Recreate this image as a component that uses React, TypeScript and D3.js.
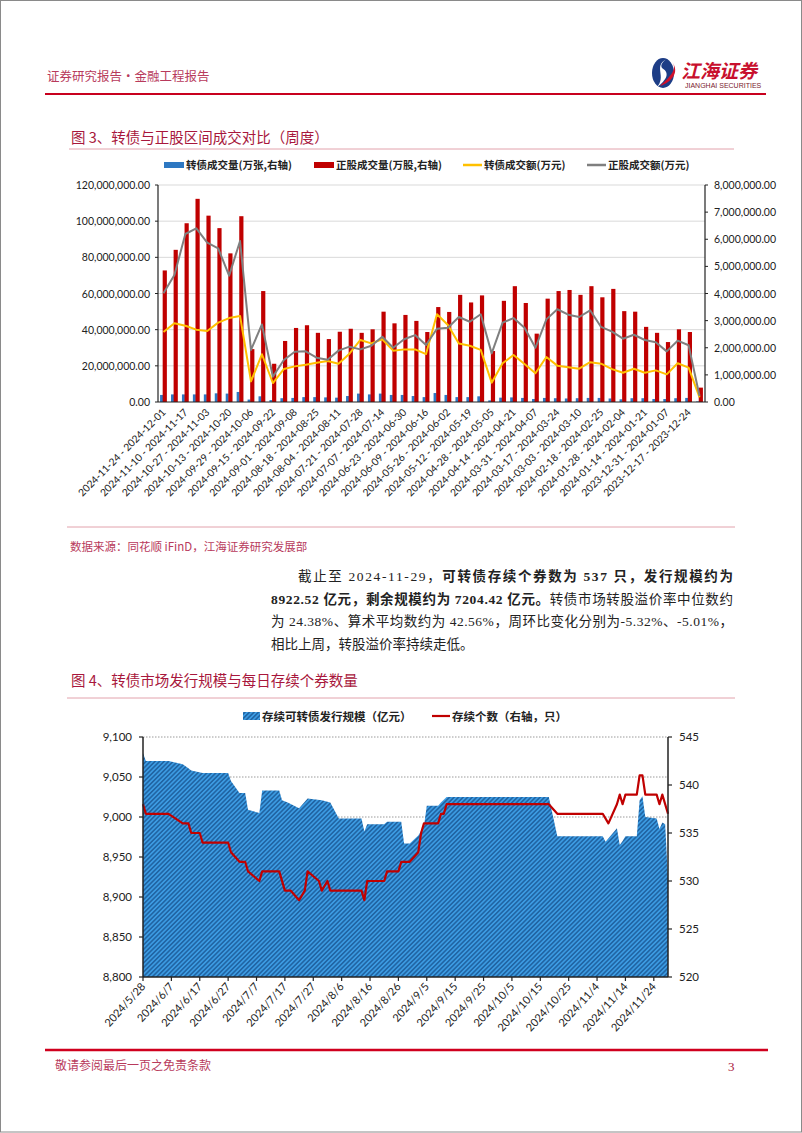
import React from "react";
import * as d3 from "d3";

// ---------- 图3 data (weekly) ----------
const weekLabels: string[] = [
  "2024-11-24 - 2024-12-01", "2024-11-17 - 2024-11-24", "2024-11-10 - 2024-11-17", "2024-11-03 - 2024-11-10",
  "2024-10-27 - 2024-11-03", "2024-10-20 - 2024-10-27", "2024-10-13 - 2024-10-20", "2024-10-06 - 2024-10-13",
  "2024-09-29 - 2024-10-06", "2024-09-22 - 2024-09-29", "2024-09-15 - 2024-09-22", "2024-09-08 - 2024-09-15",
  "2024-09-01 - 2024-09-08", "2024-08-25 - 2024-09-01", "2024-08-18 - 2024-08-25", "2024-08-11 - 2024-08-18",
  "2024-08-04 - 2024-08-11", "2024-07-28 - 2024-08-04", "2024-07-21 - 2024-07-28", "2024-07-14 - 2024-07-21",
  "2024-07-07 - 2024-07-14", "2024-06-30 - 2024-07-07", "2024-06-23 - 2024-06-30", "2024-06-16 - 2024-06-23",
  "2024-06-09 - 2024-06-16", "2024-06-02 - 2024-06-09", "2024-05-26 - 2024-06-02", "2024-05-19 - 2024-05-26",
  "2024-05-12 - 2024-05-19", "2024-05-05 - 2024-05-12", "2024-04-28 - 2024-05-05", "2024-04-21 - 2024-04-28",
  "2024-04-14 - 2024-04-21", "2024-04-07 - 2024-04-14", "2024-03-31 - 2024-04-07", "2024-03-24 - 2024-03-31",
  "2024-03-17 - 2024-03-24", "2024-03-10 - 2024-03-17", "2024-03-03 - 2024-03-10", "2024-02-25 - 2024-03-03",
  "2024-02-18 - 2024-02-25", "2024-02-04 - 2024-02-11", "2024-01-28 - 2024-02-04", "2024-01-21 - 2024-01-28",
  "2024-01-14 - 2024-01-21", "2024-01-07 - 2024-01-14", "2023-12-31 - 2024-01-07", "2023-12-24 - 2023-12-31",
  "2023-12-17 - 2023-12-24", "2023-12-10 - 2023-12-17",
];

// 转债成交量(万张, 右轴)
const cbVolume: number[] = [
  260000, 280000, 280000, 280000, 280000, 320000, 310000, 370000, 90000, 210000,
  70000, 140000, 150000, 180000, 180000, 170000, 160000, 220000, 310000, 280000,
  310000, 260000, 260000, 220000, 180000, 330000, 260000, 180000, 180000, 210000,
  60000, 160000, 170000, 150000, 110000, 150000, 140000, 130000, 140000, 150000,
  150000, 130000, 100000, 140000, 140000, 110000, 110000, 140000, 150000, 20000,
];

// 正股成交量(万股, 右轴)
const stockVolume: number[] = [
  4850000, 5610000, 6590000, 7490000, 6870000, 6410000, 5480000, 6850000, 1950000, 4090000,
  1410000, 2250000, 2730000, 2830000, 2550000, 2320000, 2590000, 2700000, 2550000, 2680000,
  3330000, 2900000, 3210000, 2990000, 2580000, 3500000, 3320000, 3950000, 3670000, 3930000,
  1880000, 3730000, 4270000, 3650000, 2520000, 3810000, 4090000, 4130000, 3950000, 4270000,
  3860000, 4170000, 3350000, 3330000, 2770000, 2550000, 2210000, 2680000, 2580000, 530000,
];

// 转债成交额(万元)
const cbAmount: number[] = [
  38700000, 43500000, 42200000, 40000000, 39300000, 43900000, 46400000, 47600000, 11400000, 26400000,
  10500000, 18200000, 19700000, 20600000, 21700000, 22700000, 21200000, 26700000, 34300000, 32400000,
  34700000, 28400000, 29100000, 29100000, 26500000, 48500000, 42600000, 32400000, 31100000, 28800000,
  10700000, 21400000, 26000000, 21000000, 15900000, 24900000, 20100000, 19200000, 18400000, 22000000,
  21200000, 18200000, 16200000, 18400000, 16200000, 17500000, 15300000, 21400000, 19000000, 2600000,
];

// 正股成交额(万元)
const stockAmount: number[] = [
  60100000, 70200000, 92900000, 96000000, 88100000, 85000000, 69900000, 89000000, 28800000, 42900000,
  14000000, 23200000, 27800000, 28000000, 24500000, 23400000, 28400000, 30600000, 29100000, 31100000,
  36100000, 30000000, 34700000, 37000000, 31500000, 40500000, 41100000, 47000000, 44400000, 48500000,
  26900000, 43900000, 46400000, 41100000, 30000000, 45700000, 51300000, 48300000, 47000000, 50700000,
  41500000, 38900000, 35000000, 37200000, 34300000, 33000000, 28000000, 33900000, 31400000, 3300000,
];

const leftTicks1 = [0, 20000000, 40000000, 60000000, 80000000, 100000000, 120000000];
const rightTicks1 = [0, 1000000, 2000000, 3000000, 4000000, 5000000, 6000000, 7000000, 8000000];

// ---------- 图4 data (daily) ----------
const scaleDates: string[] = [
  "2024-05-28", "2024-05-29", "2024-06-06", "2024-06-11", "2024-06-13", "2024-06-14", "2024-06-18",
  "2024-06-27", "2024-06-28", "2024-07-01", "2024-07-03", "2024-07-04", "2024-07-08", "2024-07-09",
  "2024-07-15", "2024-07-16", "2024-07-18", "2024-07-22", "2024-07-25", "2024-07-30", "2024-08-02",
  "2024-08-05", "2024-08-13", "2024-08-14", "2024-08-15", "2024-08-21", "2024-08-22", "2024-08-27",
  "2024-08-28", "2024-08-30", "2024-09-02", "2024-09-04", "2024-09-05", "2024-09-09", "2024-09-10",
  "2024-09-12", "2024-10-18", "2024-10-21", "2024-11-06", "2024-11-07", "2024-11-11", "2024-11-12",
  "2024-11-13", "2024-11-14", "2024-11-18", "2024-11-19", "2024-11-20", "2024-11-21", "2024-11-25",
  "2024-11-26", "2024-11-27", "2024-11-28", "2024-11-29",
];
// 存续可转债发行规模(亿元)
const scaleValues: number[] = [
  9080, 9070, 9070, 9066, 9061, 9058, 9055,
  9055, 9045, 9030, 9030, 9009, 9005, 9033,
  9033, 9021, 9018, 9011, 9023, 9021, 9018,
  8998, 8998, 8982, 8991, 8991, 8994, 8994,
  8967, 8967, 8977, 8988, 9014, 9014, 9018,
  9025, 9025, 8976, 8976, 8969, 8986, 8965,
  8970, 8976, 8976, 9021, 9026, 9000, 8998,
  8985, 8993, 8991, 8922.52,
];

const countDates: string[] = [
  "2024-05-28", "2024-05-29", "2024-06-06", "2024-06-11", "2024-06-13", "2024-06-14", "2024-06-17",
  "2024-06-18", "2024-06-27", "2024-06-28", "2024-07-01", "2024-07-03", "2024-07-04", "2024-07-08",
  "2024-07-09", "2024-07-15", "2024-07-17", "2024-07-19", "2024-07-22", "2024-07-24", "2024-07-25",
  "2024-07-29", "2024-07-30", "2024-08-01", "2024-08-02", "2024-08-13", "2024-08-14", "2024-08-15",
  "2024-08-21", "2024-08-22", "2024-08-26", "2024-08-27", "2024-08-30", "2024-09-02", "2024-09-03",
  "2024-09-04", "2024-09-09", "2024-09-10", "2024-09-11", "2024-09-12", "2024-10-18", "2024-10-21",
  "2024-11-06", "2024-11-08", "2024-11-11", "2024-11-12", "2024-11-13", "2024-11-14", "2024-11-18",
  "2024-11-19", "2024-11-20", "2024-11-21", "2024-11-25", "2024-11-26", "2024-11-27", "2024-11-29",
];
// 存续个数(右轴, 只)
const countValues: number[] = [
  538, 537, 537, 536, 536, 535, 535,
  534, 534, 533, 532, 532, 531, 530,
  531, 531, 529, 529, 528, 529, 531,
  530, 529, 530, 529, 529, 528, 530,
  530, 531, 531, 532, 532, 533, 535,
  536, 536, 537, 537, 538, 538, 537,
  537, 536, 538, 539, 538, 539, 539,
  541, 541, 539, 539, 538, 539, 537,
];

const dateTicks: string[] = [
  "2024/5/28", "2024/6/7", "2024/6/17", "2024/6/27", "2024/7/7", "2024/7/17", "2024/7/27",
  "2024/8/6", "2024/8/16", "2024/8/26", "2024/9/5", "2024/9/15", "2024/9/25", "2024/10/5",
  "2024/10/15", "2024/10/25", "2024/11/4", "2024/11/14", "2024/11/24",
];
const leftTicks2 = [8800, 8850, 8900, 8950, 9000, 9050, 9100];
const rightTicks2 = [520, 525, 530, 535, 540, 545];

const CJK = "'Noto Sans CJK SC', sans-serif";
const NUM = "Lato, 'Noto Sans CJK SC', sans-serif";
const SERIF = "'Liberation Serif', 'Noto Sans CJK SC', serif";
const PINK = "#b83a5c";
const TITLE = "#a8173c";

const WeeklyChart = () => {
  const left = 158, right = 705, top = 185, bottom = 402;
  const x = d3.scaleBand<string>().domain(weekLabels).range([left, right]);
  const yL = d3.scaleLinear().domain([0, 120000000]).range([bottom, top]);
  const yR = d3.scaleLinear().domain([0, 8000000]).range([bottom, top]);
  const cx = (i: number) => (x(weekLabels[i]) as number) + x.bandwidth() / 2;
  const line = d3.line<number>().x((_, i) => cx(i)).y((d) => yL(d));
  const fmt = d3.format(",.2f");
  return (
    <g>
      {/* legend */}
      <rect x={164} y={162} width={20} height={6} fill="#2e78c2" />
      <text x={186} y={169} fontSize={10.5} fontWeight={700} fontFamily={CJK} fill="#222">转债成交量(万张,右轴)</text>
      <rect x={314} y={162} width={20} height={6} fill="#c00000" />
      <text x={336} y={169} fontSize={10.5} fontWeight={700} fontFamily={CJK} fill="#222">正股成交量(万股,右轴)</text>
      <line x1={463} x2={482} y1={165} y2={165} stroke="#ffc000" strokeWidth={2.5} />
      <text x={484} y={169} fontSize={10.5} fontWeight={700} fontFamily={CJK} fill="#222">转债成交额(万元)</text>
      <line x1={587} x2={606} y1={165} y2={165} stroke="#7f7f7f" strokeWidth={2.5} />
      <text x={608} y={169} fontSize={10.5} fontWeight={700} fontFamily={CJK} fill="#222">正股成交额(万元)</text>

      {leftTicks1.map((t) => (
        <g key={t}>
          {t > 0 && <line x1={left} x2={right} y1={yL(t)} y2={yL(t)} stroke="#d9d9d9" strokeWidth={1} />}
          <line x1={left - 3} x2={left} y1={yL(t)} y2={yL(t)} stroke="#222" />
          <text x={150} y={yL(t) + 4} textAnchor="end" fontSize={10.5} fontFamily={NUM} fill="#222">{fmt(t)}</text>
        </g>
      ))}
      {rightTicks1.map((t) => (
        <g key={t}>
          <line x1={right} x2={right + 3} y1={yR(t)} y2={yR(t)} stroke="#222" />
          <text x={714} y={yR(t) + 4} fontSize={10.5} fontFamily={NUM} fill="#222">{fmt(t)}</text>
        </g>
      ))}

      {cbVolume.map((v, i) => (
        <rect key={"b" + i} x={cx(i) - 3.4} width={3} y={yR(v)} height={bottom - yR(v)} fill="#2e78c2" />
      ))}
      {stockVolume.map((v, i) => (
        <rect key={"r" + i} x={cx(i) - 0.8} width={4.2} y={yR(v)} height={bottom - yR(v)} fill="#c00000" />
      ))}
      <path d={line(cbAmount) as string} fill="none" stroke="#ffc000" strokeWidth={2} strokeLinejoin="round" />
      <path d={line(stockAmount) as string} fill="none" stroke="#7f7f7f" strokeWidth={2} strokeLinejoin="round" />

      <line x1={left} x2={left} y1={top} y2={bottom} stroke="#222" strokeWidth={1.2} />
      <line x1={right} x2={right} y1={top} y2={bottom} stroke="#222" strokeWidth={1.2} />
      <line x1={left} x2={right} y1={bottom} y2={bottom} stroke="#222" strokeWidth={1.2} />

      {weekLabels.map((l, i) =>
        i % 2 === 0 ? (
          <text key={l} transform={`translate(${cx(i) + 3},${bottom + 11}) rotate(-45)`} textAnchor="end"
            fontSize={10.2} fontFamily={NUM} fill="#222">{l}</text>
        ) : null
      )}
    </g>
  );
};

const DailyChart = () => {
  const left = 143, right = 668, top = 737, bottom = 977;
  const parse = d3.timeParse("%Y-%m-%d");
  const parseTick = d3.timeParse("%Y/%m/%d");
  const x = d3.scaleTime().domain([parse("2024-05-28") as Date, parse("2024-11-29") as Date]).range([left, right]);
  const yL = d3.scaleLinear().domain([8800, 9100]).range([bottom, top]);
  const yR = d3.scaleLinear().domain([520, 545]).range([bottom, top]);
  const area = d3.area<number>()
    .x((_, i) => x(parse(scaleDates[i]) as Date))
    .y0(bottom)
    .y1((d) => yL(d));
  const line = d3.line<number>()
    .x((_, i) => x(parse(countDates[i]) as Date))
    .y((d) => yR(d));
  return (
    <g>
      <defs>
        <pattern id="hatch" patternUnits="userSpaceOnUse" width={3.2} height={3.2} patternTransform="rotate(45)">
          <rect width={3.2} height={3.2} fill="#3c9be2" />
          <line x1={1.6} x2={1.6} y1={0} y2={3.2} stroke="#1a5896" strokeWidth={1.3} />
        </pattern>
      </defs>
      {/* legend */}
      <rect x={243} y={712} width={17} height={8} fill="url(#hatch)" />
      <text x={262} y={720.5} fontSize={11.5} fontWeight={700} fontFamily={CJK} fill="#222">存续可转债发行规模（亿元）</text>
      <line x1={432} x2={450} y1={716} y2={716} stroke="#c00000" strokeWidth={2.2} />
      <text x={452} y={720.5} fontSize={11.5} fontWeight={700} fontFamily={CJK} fill="#222">存续个数（右轴，只）</text>

      {leftTicks2.map((t) => (
        <g key={t}>
          {t > 8800 && <line x1={left} x2={right} y1={yL(t)} y2={yL(t)} stroke="#9a9a9a" strokeDasharray="1.5,1.5" />}
          <line x1={left - 4} x2={left} y1={yL(t)} y2={yL(t)} stroke="#222" strokeWidth={1.2} />
          <text x={132} y={yL(t) + 4} textAnchor="end" fontSize={11.5} fontFamily={NUM} fill="#222">{d3.format(",")(t)}</text>
        </g>
      ))}
      {rightTicks2.map((t) => (
        <g key={t}>
          <line x1={right} x2={right + 4} y1={yR(t)} y2={yR(t)} stroke="#222" strokeWidth={1.2} />
          <text x={679} y={yR(t) + 4} fontSize={11.5} fontFamily={NUM} fill="#222">{t}</text>
        </g>
      ))}

      <path d={area(scaleValues) as string} fill="url(#hatch)" />
      <path d={line(countValues) as string} fill="none" stroke="#c00000" strokeWidth={2.2} strokeLinejoin="round" />

      <line x1={left} x2={left} y1={top} y2={bottom} stroke="#222" strokeWidth={1.5} />
      <line x1={right} x2={right} y1={top} y2={bottom} stroke="#222" strokeWidth={1.5} />
      <line x1={left} x2={right} y1={bottom} y2={bottom} stroke="#222" strokeWidth={1.5} />

      {dateTicks.map((t) => {
        const px = x(parseTick(t) as Date);
        return (
          <g key={t}>
            <line x1={px} x2={px} y1={bottom} y2={bottom + 4} stroke="#222" strokeWidth={1.2} />
            <text transform={`translate(${px + 3},${bottom + 10}) rotate(-48)`} textAnchor="end"
              fontSize={11} fontFamily={NUM} fill="#222">{t}</text>
          </g>
        );
      })}
    </g>
  );
};

const App = () => {
  const W = 802, H = 1133;
  const para = { fontSize: 13.5, fontFamily: SERIF, fill: "#222" };
  return (
    <svg width={W} height={H} viewBox={`0 0 ${W} ${H}`} style={{ position: "absolute", left: 0, top: 0, background: "#fff" }}>
      <rect x={0.5} y={0.5} width={W - 1} height={H - 1.5} fill="#fff" stroke="#8a8a8a" />

      {/* header */}
      <text x={47} y={81} fontSize={12.5} fontFamily={CJK} fill={PINK}>证券研究报告·金融工程报告</text>
      <ellipse cx={663} cy={73} rx={11} ry={15} fill="#1d3d86" />
      <path d="M667,59 C652,66 668,77 656,88 C664,82 672,74 662,68 C660,65 663,61 667,59 Z" fill="#fff" />
      <path d="M672,62 C679,70 666,80 660,86 C672,82 680,72 672,62 Z" fill="#d0102a" />
      <text x={681} y={78} fontSize={19} fontWeight={700} fontStyle="italic" fontFamily={CJK} fill="#c8102e">江海证券</text>
      <text x={685} y={88} fontSize={7} fontFamily="'Liberation Sans', sans-serif" fill="#7a1a2e">JIANGHAI SECURITIES</text>
      <line x1={45} x2={766} y1={94} y2={94} stroke="#c8001e" strokeWidth={2} />

      {/* figure 3 */}
      <text x={71} y={143} fontSize={14.5} fontFamily={CJK} fill={TITLE}>图 3、转债与正股区间成交对比（周度）</text>
      <line x1={69} x2={734} y1={149} y2={149} stroke="#e2a2ac" strokeWidth={1} />
      <WeeklyChart />
      <line x1={67} x2={735} y1={527} y2={527} stroke="#e2a2ac" strokeWidth={1} />
      <text x={70} y={551} fontSize={11.5} fontFamily={CJK} fill={PINK}>数据来源：同花顺 iFinD，江海证券研究发展部</text>

      {/* paragraph */}
      <text x={298} y={581} textLength={435} lengthAdjust="spacing" {...para}>
        截止至 2024-11-29，<tspan fontWeight={700}>可转债存续个券数为 537 只，发行规模约为</tspan>
      </text>
      <text x={271} y={603.5} textLength={462} lengthAdjust="spacing" {...para}>
        <tspan fontWeight={700}>8922.52 亿元，剩余规模约为 7204.42 亿元。</tspan>转债市场转股溢价率中位数约
      </text>
      <text x={271} y={626} textLength={462} lengthAdjust="spacing" {...para}>
        为 24.38%、算术平均数约为 42.56%，周环比变化分别为-5.32%、-5.01%，
      </text>
      <text x={271} y={648.5} {...para}>相比上周，转股溢价率持续走低。</text>

      {/* figure 4 */}
      <text x={71} y={686} fontSize={14.5} fontFamily={CJK} fill={TITLE}>图 4、转债市场发行规模与每日存续个券数量</text>
      <line x1={67} x2={735} y1={698} y2={698} stroke="#e2a2ac" strokeWidth={1} />
      <DailyChart />

      {/* footer */}
      <line x1={45} x2={768} y1={1050} y2={1050} stroke="#d0001e" strokeWidth={2.5} />
      <text x={55} y={1070} fontSize={12} fontFamily={CJK} fill={PINK}>敬请参阅最后一页之免责条款</text>
      <text x={728} y={1071} fontSize={13} fontFamily={SERIF} fill={TITLE}>3</text>
    </svg>
  );
};

export default App;
